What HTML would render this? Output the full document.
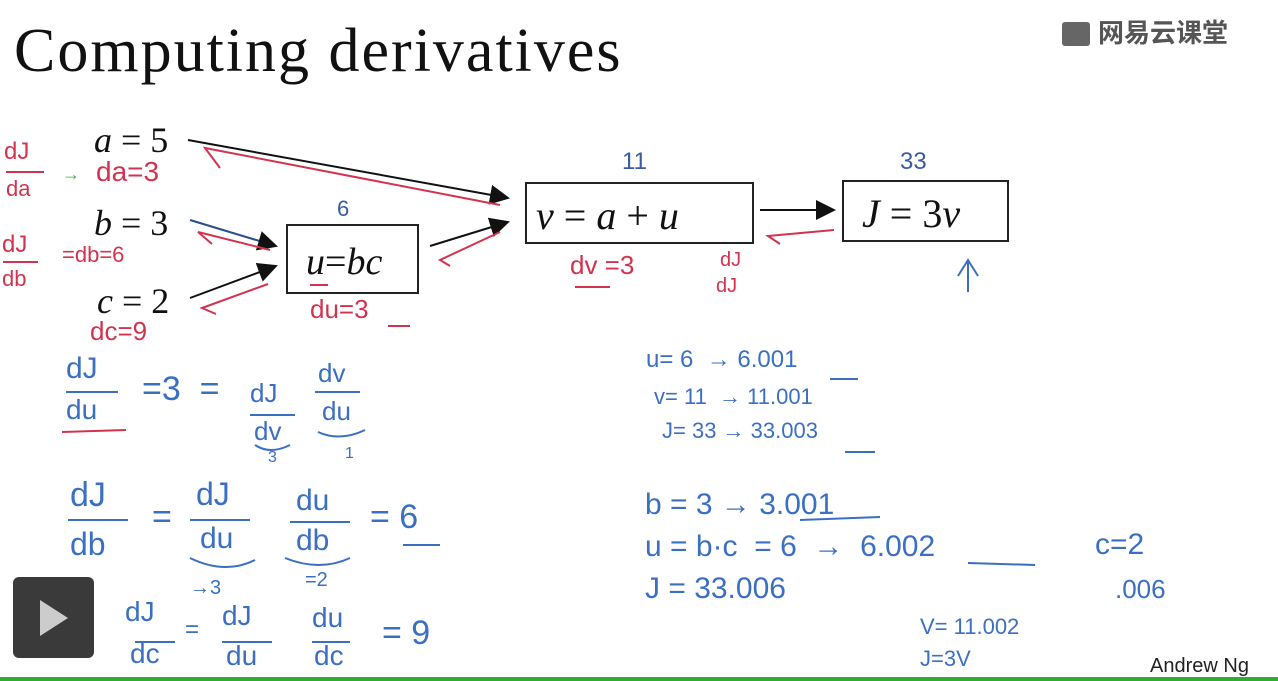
<!DOCTYPE html>
<html><head><meta charset="utf-8"><style>
body{margin:0;width:1278px;height:681px;background:#fff;position:relative;overflow:hidden;font-family:"Liberation Serif",serif}
.t{position:absolute;white-space:nowrap;line-height:1}
.r{color:#d2334f;font-family:"Liberation Sans",sans-serif}
.b{color:#3b6fc2;font-family:"Liberation Sans",sans-serif}
.k{color:#111;font-family:"Liberation Serif",serif}
.box{position:absolute;border:2px solid #222;box-sizing:border-box}
</style></head><body>
<div class="t k" style="left:14px;top:20px;font-size:62px;letter-spacing:2px">Computing derivatives</div>
<div class="t" style="left:1062px;top:20px;font-size:26px;font-weight:bold;color:#555;font-family:'Liberation Sans','Noto Sans CJK SC',sans-serif"><span style="display:inline-block;width:28px;height:24px;background:#666;border-radius:3px;vertical-align:-4px;margin-right:8px"></span>网易云课堂</div>

<div class="box" style="left:286px;top:224px;width:133px;height:70px"></div>
<div class="box" style="left:525px;top:182px;width:229px;height:62px"></div>
<div class="box" style="left:842px;top:180px;width:167px;height:62px"></div>

<div class="t k" style="left:94px;top:122px;font-size:36px;font-style:italic">a <span style="font-style:normal">= 5</span></div>
<div class="t k" style="left:94px;top:205px;font-size:36px;font-style:italic">b <span style="font-style:normal">= 3</span></div>
<div class="t k" style="left:97px;top:283px;font-size:36px;font-style:italic">c <span style="font-style:normal">= 2</span></div>
<div class="t k" style="left:306px;top:243px;font-size:38px;font-style:italic">u<span style="font-style:normal">=</span>bc</div>
<div class="t k" style="left:536px;top:196px;font-size:40px;font-style:italic">v <span style="font-style:normal">=</span> a <span style="font-style:normal">+</span> u</div>
<div class="t k" style="left:862px;top:194px;font-size:40px;font-style:italic">J <span style="font-style:normal">= 3</span>v</div>

<div class="t b" style="left:337px;top:198px;font-size:22px;color:#3a5aa8">6</div>
<div class="t b" style="left:622px;top:150px;font-size:24px;color:#3a5aa8">11</div>
<div class="t b" style="left:900px;top:150px;font-size:24px;color:#3a5aa8">33</div>

<svg style="position:absolute;left:0;top:0" width="1278" height="681">
<defs><marker id="a" markerWidth="10" markerHeight="10" refX="9" refY="5" orient="auto"><path d="M0,0 L10,5 L0,10 z" fill="#111"/></marker></defs>
<g stroke="#111" stroke-width="2" fill="none">
<line x1="188" y1="140" x2="508" y2="198" marker-end="url(#a)"/>
<line x1="190" y1="220" x2="276" y2="246" marker-end="url(#a)" stroke="#2a4c8a"/>
<line x1="190" y1="298" x2="276" y2="266" marker-end="url(#a)"/>
<line x1="430" y1="246" x2="508" y2="222" marker-end="url(#a)"/>
<line x1="760" y1="210" x2="834" y2="210" marker-end="url(#a)"/>
</g>
<g stroke="#d2334f" stroke-width="2" fill="none">
<path d="M500 205 L205 148 L220 168"/><path d="M270 250 L198 232 L212 244"/><path d="M268 284 L202 308 L216 314"/>
<path d="M500 232 L440 260 L450 266"/><path d="M834 230 L768 236 L780 244"/>
<path d="M62 432 L126 430"/><path d="M6 172 L44 172"/><path d="M3 262 L38 262"/>
<path d="M575 287 L610 287"/><path d="M310 285 L328 285"/><path d="M388 326 L410 326"/>
</g>
<g stroke="#3b6fc2" stroke-width="2" fill="none">
<path d="M968 292 L968 262 M958 276 L968 260 L978 276"/>
<path d="M68 520 L128 520 M190 520 L250 520 M290 522 L350 522 M403 545 L440 545"/>
<path d="M66 392 L118 392 M250 415 L295 415 M315 392 L360 392 M135 642 L175 642 M222 642 L272 642 M312 642 L350 642"/>
<path d="M968 563 L1035 565 M800 520 L880 517 M845 452 L875 452 M830 379 L858 379"/>
<path d="M255 445 Q270 455 290 445 M318 432 Q340 442 365 430 M190 558 Q225 575 255 560 M285 558 Q320 572 350 558"/>
</g>
</svg>

<div class="t r" style="left:4px;top:140px;font-size:24px">dJ</div>
<div class="t r" style="left:6px;top:178px;font-size:22px">da</div>
<div class="t" style="left:62px;top:165px;font-size:18px;color:#4a4">→</div>
<div class="t r" style="left:96px;top:158px;font-size:28px">da=3</div>
<div class="t r" style="left:2px;top:233px;font-size:24px">dJ</div>
<div class="t r" style="left:2px;top:268px;font-size:22px">db</div>
<div class="t r" style="left:62px;top:244px;font-size:22px">=db=6</div>
<div class="t r" style="left:90px;top:318px;font-size:26px">dc=9</div>
<div class="t r" style="left:310px;top:296px;font-size:26px">du=3</div>
<div class="t r" style="left:570px;top:252px;font-size:26px">dv =3</div>
<div class="t r" style="left:720px;top:250px;font-size:20px">dJ</div>
<div class="t r" style="left:716px;top:276px;font-size:20px">dJ</div>

<div class="t b" style="left:66px;top:354px;font-size:30px">dJ</div>
<div class="t b" style="left:66px;top:396px;font-size:28px">du</div>
<div class="t b" style="left:142px;top:372px;font-size:34px">=3 &nbsp;=</div>
<div class="t b" style="left:250px;top:380px;font-size:26px">dJ</div>
<div class="t b" style="left:254px;top:418px;font-size:26px">dv</div>
<div class="t b" style="left:318px;top:360px;font-size:26px">dv</div>
<div class="t b" style="left:322px;top:398px;font-size:26px">du</div>
<div class="t b" style="left:268px;top:450px;font-size:16px">3</div>
<div class="t b" style="left:345px;top:446px;font-size:16px">1</div>

<div class="t b" style="left:70px;top:478px;font-size:34px">dJ</div>
<div class="t b" style="left:70px;top:528px;font-size:32px">db</div>
<div class="t b" style="left:152px;top:500px;font-size:34px">=</div>
<div class="t b" style="left:196px;top:478px;font-size:32px">dJ</div>
<div class="t b" style="left:200px;top:524px;font-size:30px">du</div>
<div class="t b" style="left:296px;top:486px;font-size:30px">du</div>
<div class="t b" style="left:296px;top:526px;font-size:30px">db</div>
<div class="t b" style="left:370px;top:500px;font-size:34px">= 6</div>
<div class="t b" style="left:190px;top:578px;font-size:20px">→3</div>
<div class="t b" style="left:305px;top:570px;font-size:20px">=2</div>

<div class="t b" style="left:125px;top:598px;font-size:28px">dJ</div>
<div class="t b" style="left:130px;top:640px;font-size:28px">dc</div>
<div class="t b" style="left:185px;top:618px;font-size:24px">=</div>
<div class="t b" style="left:222px;top:602px;font-size:28px">dJ</div>
<div class="t b" style="left:226px;top:642px;font-size:28px">du</div>
<div class="t b" style="left:312px;top:604px;font-size:28px">du</div>
<div class="t b" style="left:314px;top:642px;font-size:28px">dc</div>
<div class="t b" style="left:382px;top:616px;font-size:34px">= 9</div>

<div class="t b" style="left:646px;top:348px;font-size:24px">u= 6 &nbsp;→ 6.001</div>
<div class="t b" style="left:654px;top:386px;font-size:22px">v= 11 &nbsp;→ 11.001</div>
<div class="t b" style="left:662px;top:420px;font-size:22px">J= 33 → 33.003</div>
<div class="t b" style="left:645px;top:490px;font-size:30px">b = 3 → 3.001</div>
<div class="t b" style="left:645px;top:532px;font-size:30px">u = b·c &nbsp;= 6 &nbsp;→ &nbsp;6.002</div>
<div class="t b" style="left:1095px;top:530px;font-size:30px">c=2</div>
<div class="t b" style="left:645px;top:574px;font-size:30px">J = 33.006</div>
<div class="t b" style="left:1115px;top:576px;font-size:26px">.006</div>
<div class="t b" style="left:920px;top:616px;font-size:22px">V= 11.002</div>
<div class="t b" style="left:920px;top:648px;font-size:22px">J=3V</div>

<div style="position:absolute;left:13px;top:577px;width:81px;height:81px;background:#3a3a3a;border-radius:6px"></div>
<div style="position:absolute;left:40px;top:600px;width:0;height:0;border-left:28px solid #ccc;border-top:18px solid transparent;border-bottom:18px solid transparent"></div>
<div class="t" style="left:1150px;top:656px;font-size:20px;font-family:'Liberation Sans',sans-serif;color:#222">Andrew Ng</div>
<div style="position:absolute;left:0;top:677px;width:1278px;height:4px;background:#3a3"></div>
</body></html>
